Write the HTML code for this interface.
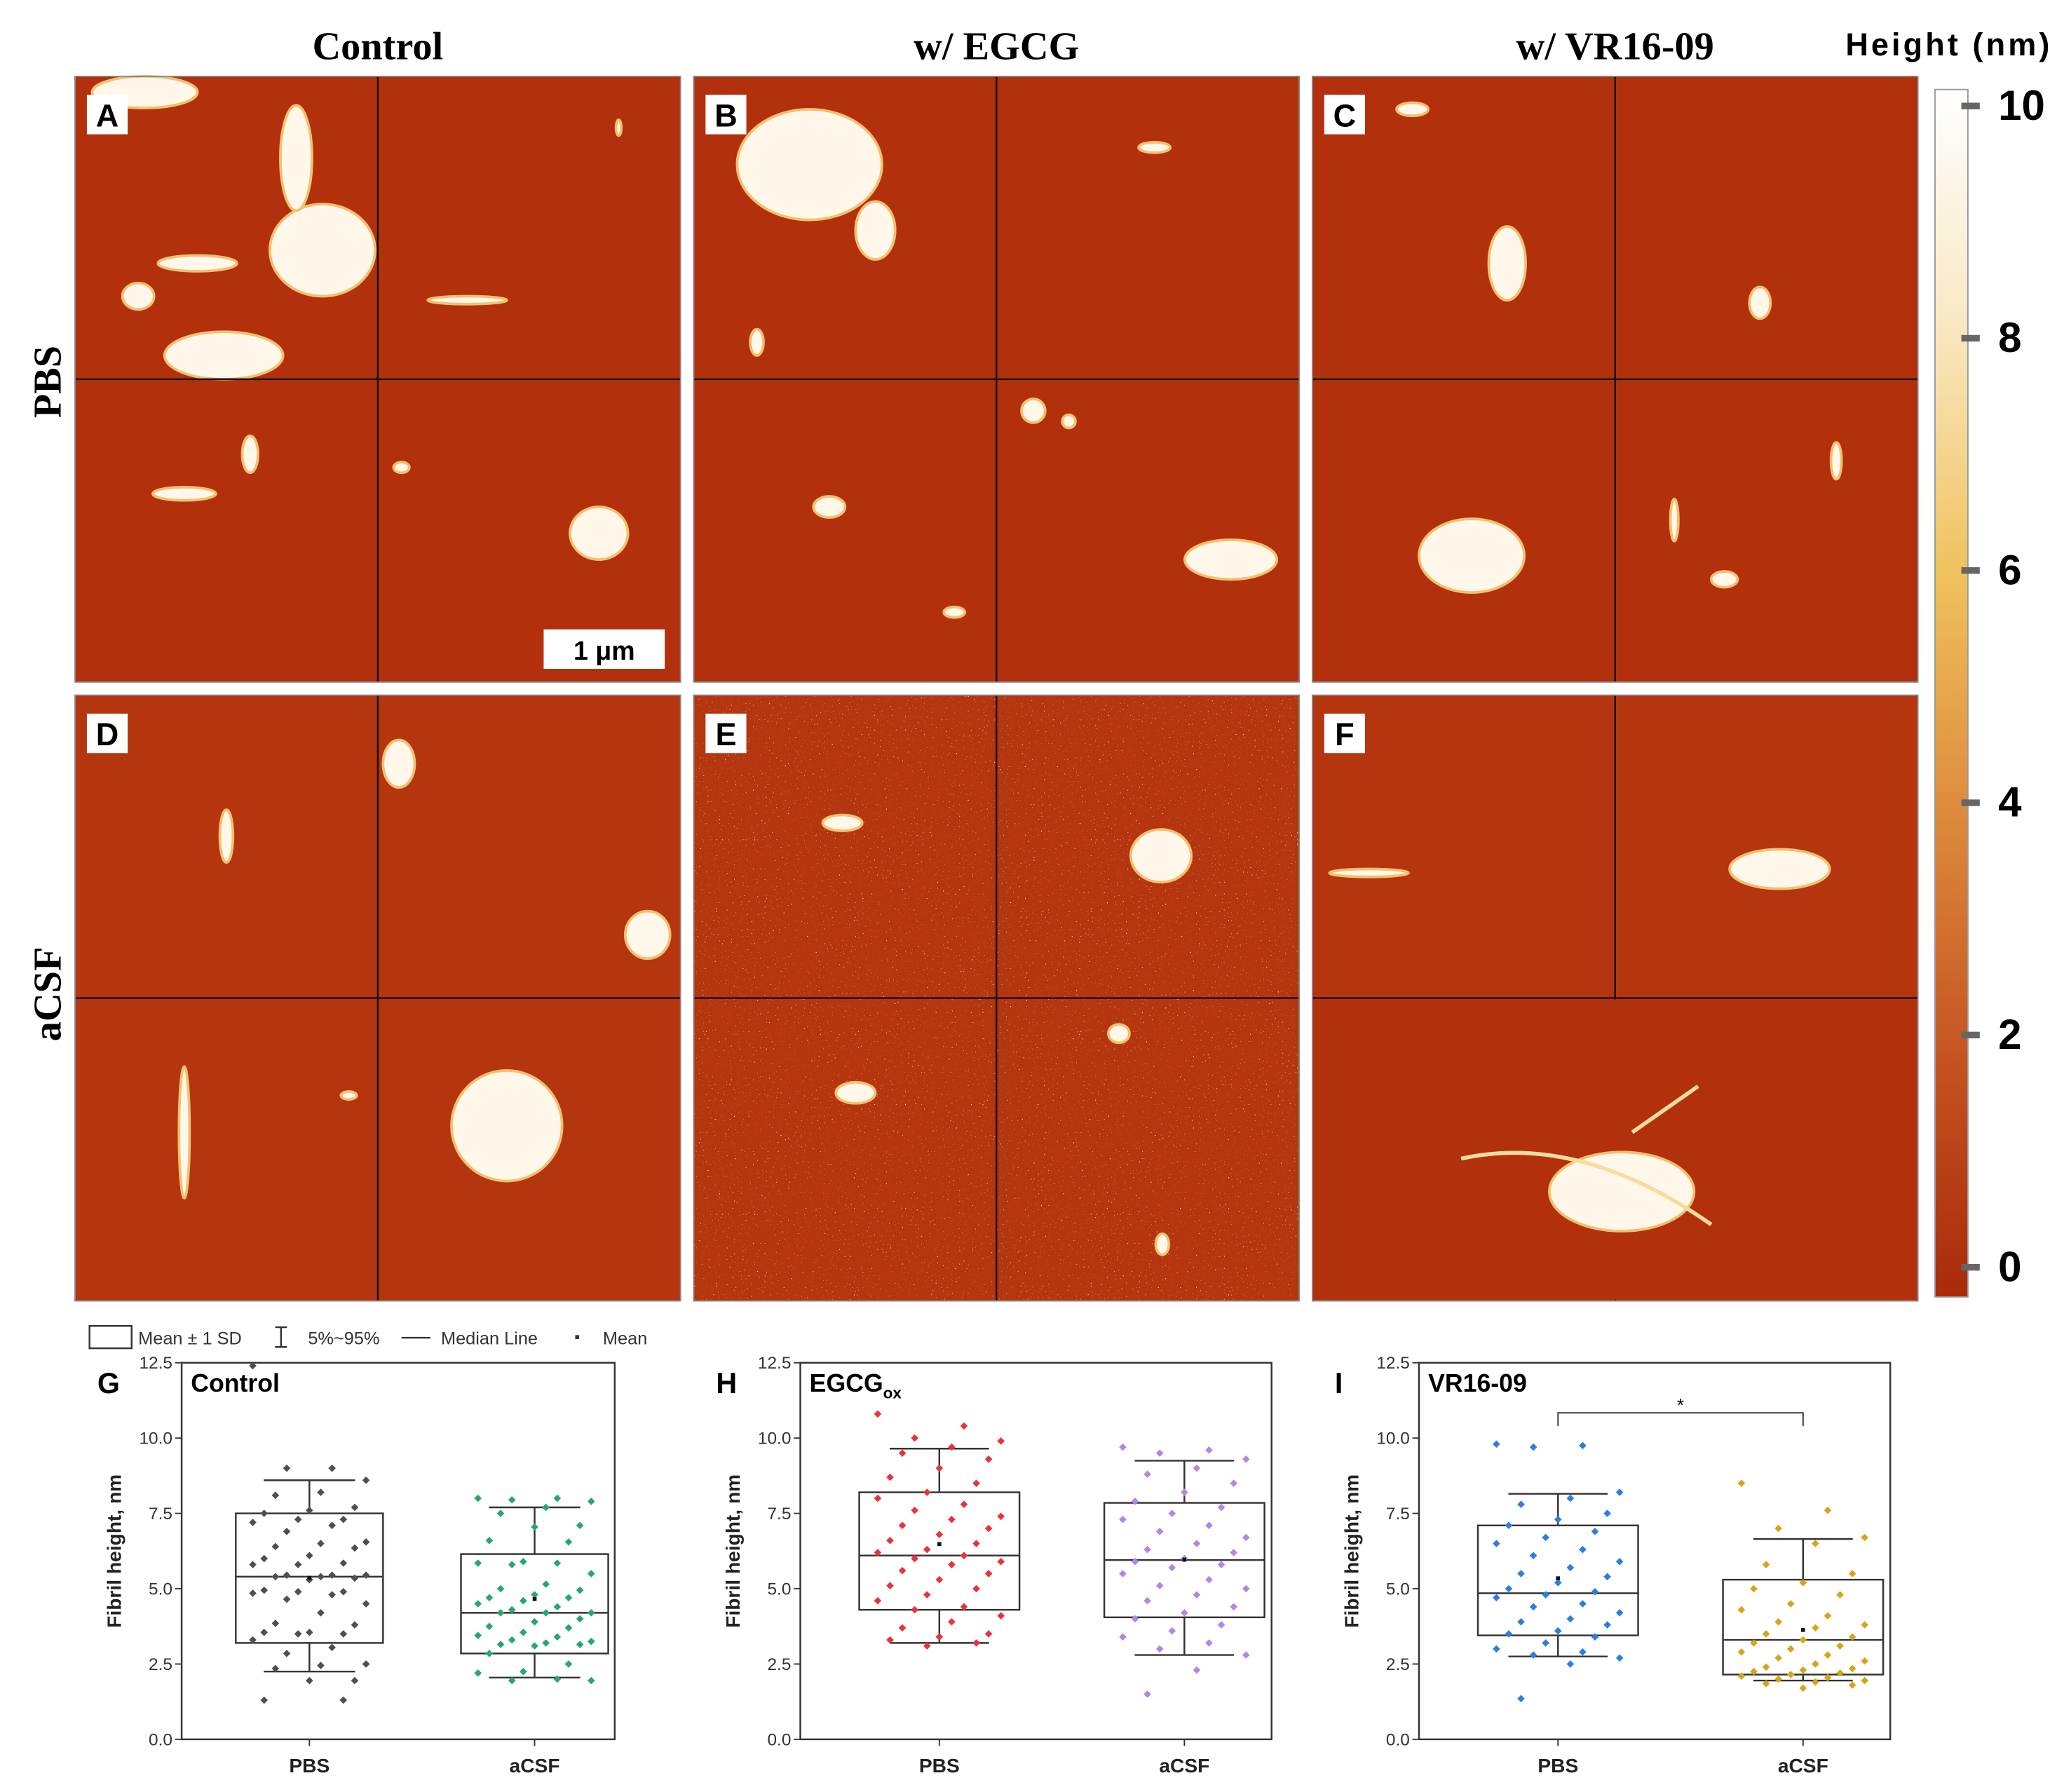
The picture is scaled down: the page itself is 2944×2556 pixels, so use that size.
<!DOCTYPE html>
<html><head><meta charset="utf-8"><style>
html,body{margin:0;padding:0;background:#fff}
svg{display:block}
text{font-family:"Liberation Sans",sans-serif}
</style></head><body>
<svg id="fig" xmlns="http://www.w3.org/2000/svg" width="2944" height="2556" viewBox="0 0 1568 1361" preserveAspectRatio="none">
<defs>
<linearGradient id="cbar" x1="0" y1="0" x2="0" y2="1">
<stop offset="0" stop-color="#ffffff"/><stop offset="0.2" stop-color="#f9e7c0"/><stop offset="0.4" stop-color="#f0c25e"/><stop offset="0.6" stop-color="#dd8a3c"/><stop offset="0.8" stop-color="#c55422"/><stop offset="1" stop-color="#a82a0b"/>
</linearGradient>
<filter id="grain"><feTurbulence type="fractalNoise" baseFrequency="0.9" numOctaves="1" seed="3"/><feColorMatrix type="matrix" values="0 0 0 0 1  0 0 0 0 0.85  0 0 0 0 0.6  0 0 0 9 -6.2"/><feComposite in2="SourceGraphic" operator="in"/></filter>
</defs>
<g font-weight="bold" font-size="30" text-anchor="middle">
<text x="287" y="45" style="font-family:'Liberation Serif',serif">Control</text>
<text x="757" y="45" style="font-family:'Liberation Serif',serif">w/ EGCG</text>
<text x="1227" y="45" style="font-family:'Liberation Serif',serif">w/ VR16-09</text>
</g>
<text x="1402" y="42" font-size="24" font-weight="bold" textLength="155">Height (nm)</text>
<text transform="translate(46,290) rotate(-90)" text-anchor="middle" font-size="30" font-weight="bold" style="font-family:'Liberation Serif',serif">PBS</text>
<text transform="translate(46,755) rotate(-90)" text-anchor="middle" font-size="30" font-weight="bold" style="font-family:'Liberation Serif',serif">aCSF</text>
<g id="afm"></g>
<rect x="1470" y="68" width="25" height="917" fill="url(#cbar)" stroke="#999"/>
<g id="cbticks" font-size="32" font-weight="bold"></g>
<g font-size="13.5" fill="#333">
<rect x="68" y="1007" width="32" height="17" fill="none" stroke="#333" stroke-width="1.3"/>
<text x="105" y="1021">Mean ± 1 SD</text>
<path d="M209 1008h9M213.5 1008v15M209 1023h9" stroke="#333" stroke-width="1.3" fill="none"/>
<text x="234" y="1021">5%~95%</text>
<path d="M305 1016h22" stroke="#333" stroke-width="1.3"/>
<text x="335" y="1021">Median Line</text>
<rect x="437" y="1014" width="3" height="3" fill="#333"/>
<text x="458" y="1021">Mean</text>
</g>
<g id="charts"></g>
</svg>
<script>
// ===== Chart data =====
const yTicks = [0, 2.5, 5, 7.5, 10, 12.5];
const yTickLabels = ["0.0","2.5","5.0","7.5","10.0","12.5"];
const categories = ["PBS","aCSF"];
const panelLetters = ["G","H","I"];
const panelTitles = ["Control","EGCG","VR16-09"];
// box stats per panel: [q_low, median, q_high, whisker_low, whisker_high]
const statsG = [[3.2,5.4,7.5,2.25,8.6],[2.85,4.2,6.15,2.05,7.7]];
const statsH = [[4.3,6.1,8.2,3.2,9.65],[4.05,5.95,7.85,2.8,9.25]];
const statsI = [[3.45,4.85,7.1,2.75,8.15],[2.15,3.3,5.3,1.95,6.65]];
const gPBS = [12.4,9.0,9.0,8.6,8.2,8.1,7.7,7.6,7.5,7.3,7.3,7.2,7.1,6.9,6.55,6.5,6.4,6.35,6.1,6.0,5.85,5.8,5.8,5.45,5.45,5.45,5.4,5.4,5.35,5.3,4.95,4.9,4.9,4.85,4.8,4.65,4.5,4.2,3.85,3.8,3.55,3.55,3.5,3.5,3.3,3.05,2.85,2.5,2.45,2.35,1.95,1.95,1.3,1.3];
const gACSF = [8.0,8.0,7.95,7.9,7.7,7.5,7.1,7.05,6.6,6.55,5.9,5.85,5.85,5.8,5.5,5.15,5.0,4.95,4.8,4.7,4.7,4.6,4.5,4.4,4.3,4.2,4.2,4.2,4.0,3.9,3.75,3.7,3.55,3.45,3.4,3.3,3.25,3.2,3.15,3.15,3.1,2.85,2.5,2.25,2.2,2.0,1.95,1.95];
const hPBS = [10.8,10.4,10.0,9.9,9.7,9.5,9.3,9.0,8.7,8.5,8.2,8.0,7.8,7.6,7.4,7.3,7.1,7.0,6.8,6.6,6.5,6.3,6.2,6.1,6.0,5.9,5.8,5.6,5.5,5.3,5.1,5.0,4.8,4.6,4.4,4.3,4.1,3.9,3.7,3.5,3.4,3.3,3.2,3.1];
const hACSF = [9.7,9.6,9.5,9.3,9.0,8.8,8.5,8.2,7.9,7.7,7.5,7.3,7.1,6.9,6.7,6.5,6.3,6.2,6.0,5.9,5.8,5.7,5.5,5.3,5.1,5.0,4.8,4.6,4.4,4.2,4.0,3.8,3.6,3.4,3.2,3.0,2.8,2.3,1.5];
const iPBS = [9.8,9.75,9.7,8.2,8.0,7.8,7.5,7.3,7.1,6.9,6.7,6.5,6.3,6.1,5.9,5.7,5.5,5.4,5.2,5.0,4.9,4.8,4.7,4.5,4.4,4.2,4.0,3.9,3.8,3.6,3.5,3.4,3.2,3.0,2.9,2.8,2.7,2.5,1.35];
const iACSF = [8.5,7.6,7.0,6.7,6.5,5.8,5.5,5.2,5.0,4.8,4.5,4.3,4.1,3.9,3.8,3.7,3.5,3.4,3.3,3.2,3.1,3.0,2.9,2.8,2.7,2.6,2.5,2.4,2.35,2.3,2.25,2.2,2.15,2.1,2.05,2.0,1.95,1.9,1.85,1.8,1.7];
const cbValues = [0,2,4,6,8,10];

const NS="http://www.w3.org/2000/svg";
function mk(tag,attrs,parent,txt){const e=document.createElementNS(NS,tag);for(const k in attrs)e.setAttribute(k,attrs[k]);if(txt!==undefined)e.textContent=txt;parent.appendChild(e);return e;}

// ===== AFM panels =====
const afm=document.getElementById('afm');
const cols=[57,527,997], rows=[58,528], S=460;
const panelLabels=[["A","B","C"],["D","E","F"]];
const blobs=[
 [[[245,190,40,35],[170,270,45,18],[110,70,40,12],[150,200,30,6],[225,120,12,40],[105,225,12,10],[455,405,22,20],[190,345,6,14],[140,375,24,5],[305,355,6,4],[355,228,30,3],[470,97,2,6]],
  [[615,125,55,42],[665,175,15,22],[575,260,5,10],[877,112,12,4],[630,385,12,8],[785,312,9,9],[812,320,5,5],[935,425,35,15],[725,465,8,4]],
  [[1145,200,14,28],[1118,422,40,28],[1310,440,10,6],[1337,230,8,12],[1073,83,12,5],[1395,350,4,14],[1272,395,3,16]]],
 [[[385,855,42,42],[303,580,12,18],[492,710,17,18],[172,635,5,20],[140,860,4,50],[265,832,6,3]],
  [[882,650,23,20],[640,625,15,6],[650,830,15,8],[850,785,8,7],[883,945,5,8]],
  [[1352,660,38,15],[1232,905,55,30],[1170,815,4,30],[1040,663,30,3]]]
];
for(let r=0;r<2;r++)for(let c=0;c<3;c++){
 const x=cols[c],y=rows[r];
 const g=mk('g',{},afm);
 
 
 mk('rect',{x:x,y:y,width:S,height:S,fill:r===0?'#b3300c':'#b5350f'},g);
 if(r===1&&c===1){mk('rect',{x:x,y:y,width:S,height:S,fill:'#b5350f',filter:'url(#grain)',opacity:0.9},g);}
 for(const b of blobs[r][c]){mk('ellipse',{cx:b[0],cy:b[1],rx:b[2],ry:b[3],fill:'#fff8ea',stroke:'#f2c070','stroke-width':2},g);}
 mk('path',{d:`M${x+S/2} ${y}v${S}M${x} ${y+S/2}h${S}`,stroke:'#111','stroke-width':1.3},g);
 if(r===1&&c===2){mk('rect',{x:x+1,y:y+S/2+1,width:S-2,height:S/2-2,fill:'#b3300c'},g);mk('ellipse',{cx:1232,cy:905,rx:55,ry:30,fill:'#fff8ea',stroke:'#f2c070','stroke-width':2},g);mk('path',{d:'M1110 880 Q1200 860 1300 930 M1240 860 L1290 825',stroke:'#f7dca0','stroke-width':3,fill:'none'},g);mk('path',{d:`M${x+S/2} ${y}v${S/2}`,stroke:'#111','stroke-width':1.3},g);}
 mk('rect',{x:x,y:y,width:S,height:S,fill:'none',stroke:'#888','stroke-width':1},g);
 mk('rect',{x:x+9,y:y+14,width:31,height:30,fill:'#fff'},g);
 const lt=mk('text',{x:x+24.5,y:y+38,'text-anchor':'middle','font-size':24,'font-weight':'bold'},g,panelLabels[r][c]);
 
 
}
const sb=mk('g',{},afm);


mk('rect',{x:413,y:478,width:92,height:30,fill:'#fff'},sb);
mk('text',{x:459,y:501,'text-anchor':'middle','font-size':20,'font-weight':'bold'},sb,'1 μm');

// colorbar ticks
const cbt=document.getElementById('cbticks');
const cbY=v=>962-(962-80)*(v/10);
cbValues.forEach(v=>{
 const t=mk('text',{x:1518,y:cbY(v)+11},cbt,String(v));
 
 
 mk('rect',{x:1490,y:cbY(v)-2,width:14,height:5,fill:'#666'},cbt);
});

// ===== Box charts =====
const charts=document.getElementById('charts');
const panels=[
 {x0:138,x1:467,stats:statsG,data:[gPBS,gACSF],colors:['#4f4f4f','#27a86a']},
 {x0:608,x1:966,stats:statsH,data:[hPBS,hACSF],colors:['#e8333a','#b286e6']},
 {x0:1078,x1:1436,stats:statsI,data:[iPBS,iACSF],colors:['#2c7ee2','#d6a516']}
];
const yTop=1035,yBot=1321;
panels.forEach((p,pi)=>{
 const g=mk('g',{},charts);
 
 
 const yS=v=>yBot-(yBot-yTop)*(v/12.5);
 const w=p.x1-p.x0;
 const xS=i=>p.x0+w*(0.295+0.52*i);
 mk('rect',{x:p.x0,y:yTop,width:w,height:yBot-yTop,fill:'none',stroke:'#333','stroke-width':1.3},g);
 yTicks.forEach((v,i)=>{
  mk('path',{d:`M${p.x0-5} ${yS(v)}h5`,stroke:'#333'},g);
  const t=mk('text',{x:p.x0-7,y:yS(v)+4.5,'text-anchor':'end','font-size':13,fill:'#333'},g,yTickLabels[i]);
  
  
 });
 const yt=mk('text',{transform:`translate(${p.x0-46},${(yTop+yBot)/2}) rotate(-90)`,'text-anchor':'middle','font-size':15,'font-weight':'bold',fill:'#222'},g,'Fibril height, nm');
 
 
 const L=mk('text',{x:p.x0-64,y:1058,'font-size':22,'font-weight':'bold'},g,panelLetters[pi]);
 
 
 const T=mk('text',{x:p.x0+7,y:1057,'font-size':19,'font-weight':'bold'},g,panelTitles[pi]);
 if(pi===1){mk('tspan',{'font-size':12,dy:5},T,'ox');}
 
 
 categories.forEach((c,ci)=>{
  const cx=xS(ci), st=p.stats[ci], bw=w*0.17;
  mk('path',{d:`M${cx} ${yBot}v5`,stroke:'#333'},g);
  const xl=mk('text',{x:cx,y:yBot+25,'text-anchor':'middle','font-size':15,'font-weight':'bold',fill:'#222'},g,c);
  
  
  const box=mk('rect',{x:cx-bw,y:yS(st[2]),width:2*bw,height:yS(st[0])-yS(st[2]),fill:'none',stroke:'#333','stroke-width':1.3},g);
  
  
  mk('path',{d:`M${cx-bw} ${yS(st[1])}h${2*bw}`,stroke:'#333','stroke-width':1.3},g);
  mk('path',{d:`M${cx} ${yS(st[2])}V${yS(st[4])}M${cx} ${yS(st[0])}V${yS(st[3])}M${cx-bw*0.62} ${yS(st[4])}h${bw*1.24}M${cx-bw*0.62} ${yS(st[3])}h${bw*1.24}`,stroke:'#333','stroke-width':1.3,fill:'none'},g);
  const d=p.data[ci];
  d.forEach((v,i)=>{
   const jx=((i*7)%11-5)*bw/6.5;
   const pt=mk('rect',{x:cx+jx-2,y:yS(v)-2,width:4,height:4,transform:`rotate(45 ${cx+jx} ${yS(v)})`,fill:p.colors[ci]},g);
   
   
  });
  const mean=d.reduce((a,b)=>a+b,0)/d.length;
  mk('rect',{x:cx-1.5,y:yS(mean)-1.5,width:3,height:3,fill:'#111'},g);
 });
 if(pi===2){
  const s=mk('g',{},g);
  
  
  mk('path',{d:`M${xS(0)} 1083V1073H${xS(1)}V1083`,stroke:'#333',fill:'none'},s);
  mk('text',{x:(xS(0)+xS(1))/2,y:1072,'text-anchor':'middle','font-size':14},s,'*');
 }
});
</script>
</body></html>
